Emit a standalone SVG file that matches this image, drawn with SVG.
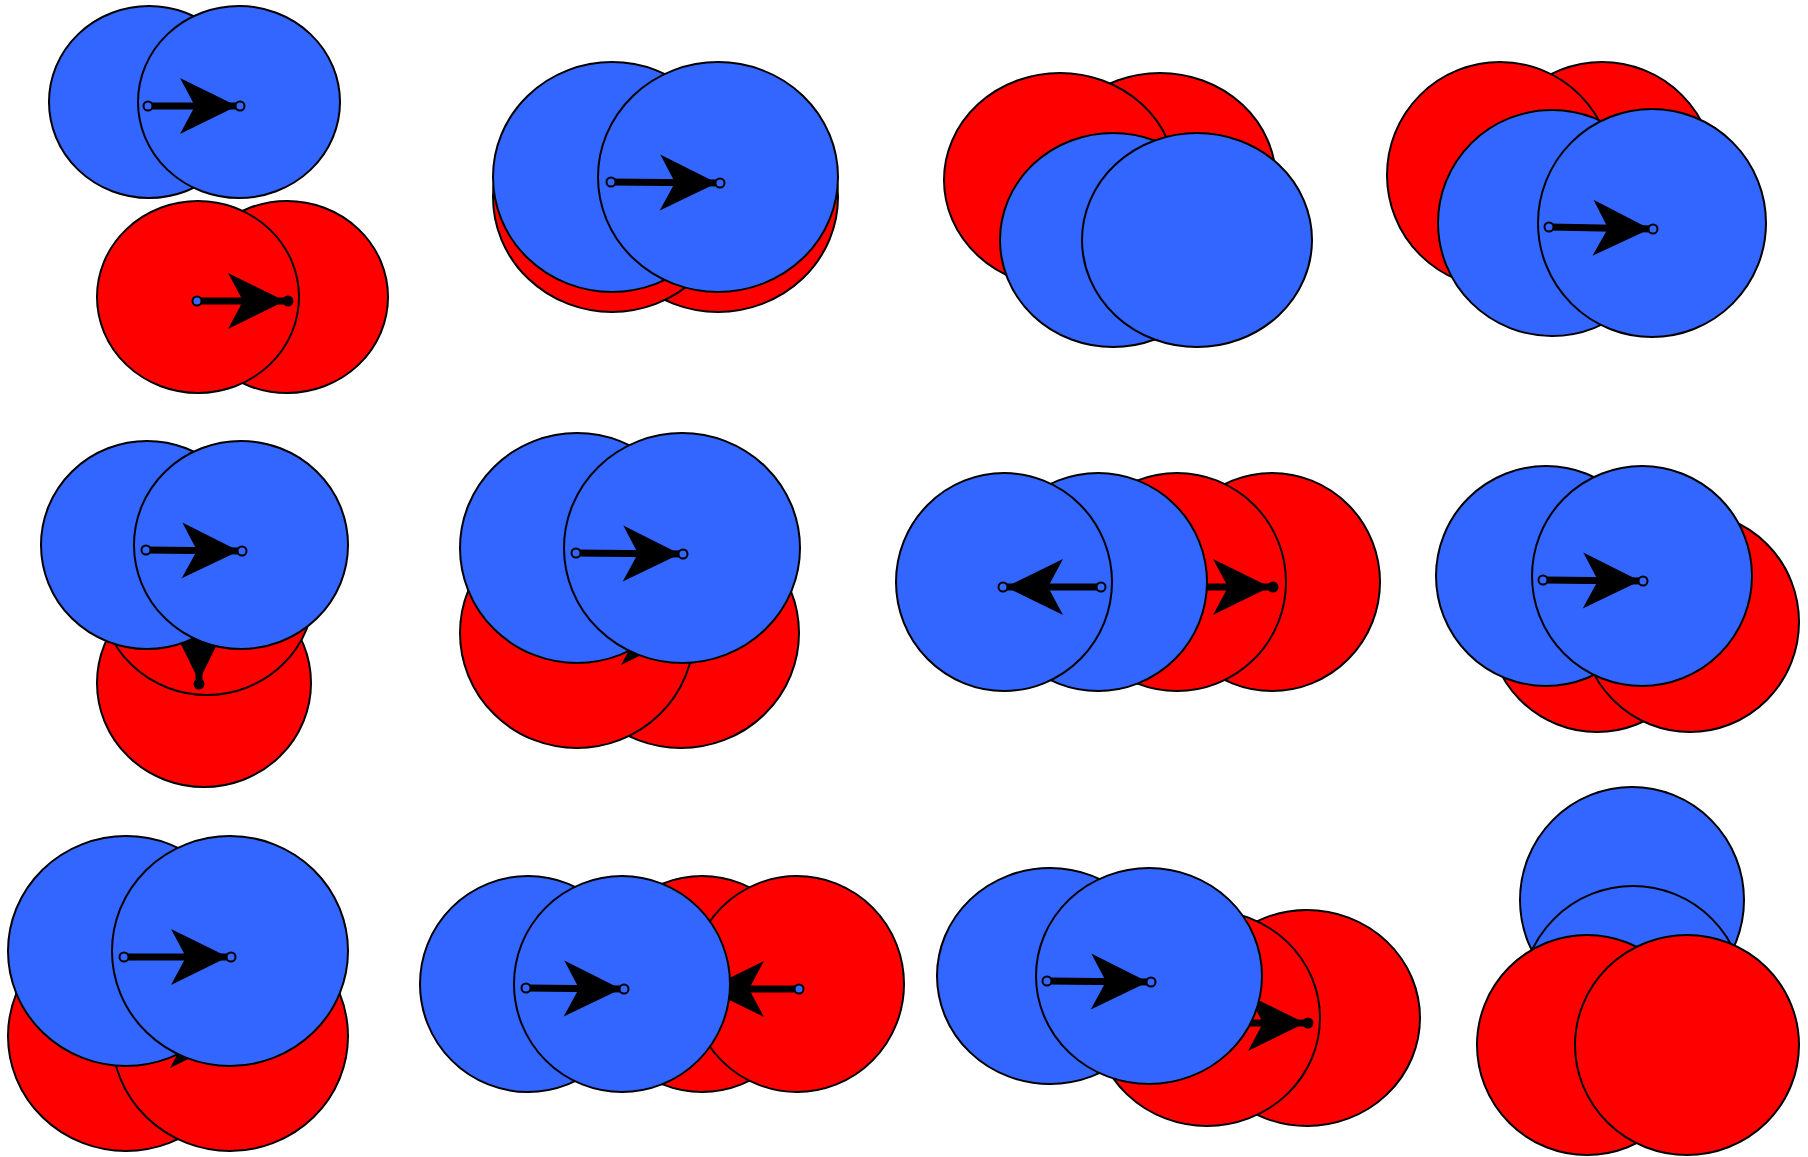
<svg xmlns="http://www.w3.org/2000/svg" width="1808" height="1157" viewBox="0 0 1808 1157">
<style>
.b{fill:#3366FF;stroke:#000;stroke-width:2}
.r{fill:#FF0000;stroke:#000;stroke-width:2}
.sh{stroke:#000;stroke-width:7;fill:none;marker-end:url(#ah)}
.eb{fill:#3366FF;stroke:#000;stroke-width:2}
.ek{fill:#000;stroke:#000;stroke-width:2}
</style>
<defs>
<marker id="ah" markerUnits="userSpaceOnUse" orient="auto" refX="0" refY="0" markerWidth="60" markerHeight="60" overflow="visible">
<path d="M-3,0 L-60,-28 L-45,0 L-60,28 Z" fill="#000"/>
</marker>
</defs>
<rect width="1808" height="1157" fill="#fff"/>

<!-- panel 12 (blue beneath red) -->
<g id="p12-blue-top"><ellipse class="b" cx="1632" cy="900" rx="112" ry="113"/></g>
<g id="p12-blue-mid"><ellipse class="b" cx="1633" cy="999" rx="112" ry="113"/></g>
<g id="p12-red-left"><ellipse class="r" cx="1587" cy="1045" rx="110" ry="110"/></g>
<g id="p12-red-right"><ellipse class="r" cx="1687" cy="1045" rx="112" ry="110"/></g>

<g id="red-nodes">
<g id="p1-red-right"><ellipse class="r" cx="287" cy="297" rx="101" ry="96"/></g>
<g id="p1-red-left"><ellipse class="r" cx="198" cy="297" rx="101" ry="96"/></g>
<g id="p2-red-right"><ellipse class="r" cx="718" cy="197" rx="120" ry="115"/></g>
<g id="p2-red-left"><ellipse class="r" cx="612" cy="197" rx="119" ry="115"/></g>
<g id="p3-red-right"><ellipse class="r" cx="1160" cy="180" rx="116" ry="107"/></g>
<g id="p3-red-left"><ellipse class="r" cx="1060" cy="180" rx="116" ry="107"/></g>
<g id="p4-red-right"><ellipse class="r" cx="1602" cy="175" rx="113" ry="113"/></g>
<g id="p4-red-left"><ellipse class="r" cx="1500" cy="175" rx="113" ry="113"/></g>
<g id="p5-red-bottom"><ellipse class="r" cx="204" cy="683" rx="107" ry="104"/></g>
<g id="p5-red-top"><ellipse class="r" cx="207" cy="591" rx="107" ry="104"/></g>
<g id="p6-red-right"><ellipse class="r" cx="681" cy="633" rx="118" ry="115"/></g>
<g id="p6-red-left"><ellipse class="r" cx="577" cy="633" rx="117" ry="115"/></g>
<g id="p7-red-right"><ellipse class="r" cx="1272" cy="582" rx="108" ry="109"/></g>
<g id="p7-red-left"><ellipse class="r" cx="1177" cy="582" rx="109" ry="109"/></g>
<g id="p8-red-left"><ellipse class="r" cx="1597" cy="622" rx="109" ry="110"/></g>
<g id="p8-red-right"><ellipse class="r" cx="1690" cy="622" rx="109" ry="110"/></g>
<g id="p9-red-left"><ellipse class="r" cx="126" cy="1036" rx="118" ry="115"/></g>
<g id="p9-red-right"><ellipse class="r" cx="230" cy="1036" rx="118" ry="115"/></g>
<g id="p10-red-left"><ellipse class="r" cx="702" cy="984" rx="107" ry="108"/></g>
<g id="p10-red-right"><ellipse class="r" cx="797" cy="984" rx="107" ry="108"/></g>
<g id="p11-red-right"><ellipse class="r" cx="1307" cy="1018" rx="113" ry="108"/></g>
<g id="p11-red-left"><ellipse class="r" cx="1207" cy="1018" rx="113" ry="108"/></g>
</g>

<g id="connectors-red">
<g id="p1-red-arrow"><line class="sh" x1="197" y1="301" x2="288" y2="301"/><circle class="eb" cx="197" cy="301" r="4.5"/><circle class="ek" cx="288" cy="301" r="4.5"/></g>
<g id="p5-red-arrow"><line class="sh" x1="199" y1="590" x2="199" y2="684"/><circle class="ek" cx="199" cy="684" r="4.5"/></g>
<g id="p6-red-arrow"><line class="sh" x1="577" y1="637" x2="681" y2="637"/></g>
<g id="p7-red-arrow"><line class="sh" x1="1177" y1="587" x2="1273" y2="587"/><circle class="ek" cx="1273" cy="587" r="4.5"/></g>
<g id="p9-red-arrow"><line class="sh" x1="126" y1="1040" x2="230" y2="1040"/></g>
<g id="p10-red-arrow"><line class="sh" x1="799" y1="989" x2="704" y2="989"/><circle class="eb" cx="799" cy="989" r="4.5"/></g>
<g id="p11-red-arrow"><line class="sh" x1="1207" y1="1023" x2="1308" y2="1023"/><circle class="ek" cx="1308" cy="1023" r="4.5"/></g>
</g>

<g id="blue-nodes">
<g id="p1-blue-left"><ellipse class="b" cx="149" cy="102" rx="100" ry="96"/></g>
<g id="p1-blue-right"><ellipse class="b" cx="239" cy="102" rx="101" ry="96"/></g>
<g id="p2-blue-left"><ellipse class="b" cx="612" cy="177" rx="119" ry="115"/></g>
<g id="p2-blue-right"><ellipse class="b" cx="718" cy="177" rx="120" ry="115"/></g>
<g id="p3-blue-left"><ellipse class="b" cx="1113" cy="240" rx="113" ry="107"/></g>
<g id="p3-blue-right"><ellipse class="b" cx="1197" cy="240" rx="115" ry="107"/></g>
<g id="p4-blue-left"><ellipse class="b" cx="1552" cy="223" rx="114" ry="113"/></g>
<g id="p4-blue-right"><ellipse class="b" cx="1652" cy="223" rx="114" ry="114"/></g>
<g id="p5-blue-left"><ellipse class="b" cx="147" cy="545" rx="106" ry="104"/></g>
<g id="p5-blue-right"><ellipse class="b" cx="241" cy="545" rx="107" ry="104"/></g>
<g id="p6-blue-left"><ellipse class="b" cx="577" cy="548" rx="117" ry="115"/></g>
<g id="p6-blue-right"><ellipse class="b" cx="682" cy="548" rx="118" ry="115"/></g>
<g id="p7-blue-right"><ellipse class="b" cx="1098" cy="582" rx="109" ry="109"/></g>
<g id="p7-blue-left"><ellipse class="b" cx="1004" cy="582" rx="108" ry="109"/></g>
<g id="p8-blue-left"><ellipse class="b" cx="1546" cy="576" rx="110" ry="110"/></g>
<g id="p8-blue-right"><ellipse class="b" cx="1642" cy="576" rx="110" ry="110"/></g>
<g id="p9-blue-left"><ellipse class="b" cx="126" cy="951" rx="118" ry="115"/></g>
<g id="p9-blue-right"><ellipse class="b" cx="230" cy="951" rx="118" ry="115"/></g>
<g id="p10-blue-left"><ellipse class="b" cx="528" cy="984" rx="108" ry="108"/></g>
<g id="p10-blue-right"><ellipse class="b" cx="622" cy="984" rx="108" ry="108"/></g>
<g id="p11-blue-left"><ellipse class="b" cx="1050" cy="976" rx="113" ry="108"/></g>
<g id="p11-blue-right"><ellipse class="b" cx="1149" cy="976" rx="113" ry="108"/></g>
</g>

<g id="connectors-blue">
<g id="p1-blue-arrow"><line class="sh" x1="148" y1="106" x2="240" y2="106"/><circle class="eb" cx="148" cy="106" r="4.5"/><circle class="eb" cx="240" cy="106" r="4.5"/></g>
<g id="p2-blue-arrow"><line class="sh" x1="611" y1="182" x2="720" y2="183"/><circle class="eb" cx="611" cy="182" r="4.5"/><circle class="eb" cx="720" cy="183" r="4.5"/></g>
<g id="p4-blue-arrow"><line class="sh" x1="1549" y1="227" x2="1653" y2="229"/><circle class="eb" cx="1549" cy="227" r="4.5"/><circle class="eb" cx="1653" cy="229" r="4.5"/></g>
<g id="p5-blue-arrow"><line class="sh" x1="146" y1="550" x2="242" y2="551"/><circle class="eb" cx="146" cy="550" r="4.5"/><circle class="eb" cx="242" cy="551" r="4.5"/></g>
<g id="p6-blue-arrow"><line class="sh" x1="576" y1="553" x2="683" y2="554"/><circle class="eb" cx="576" cy="553" r="4.5"/><circle class="eb" cx="683" cy="554" r="4.5"/></g>
<g id="p7-blue-arrow"><line class="sh" x1="1101" y1="587" x2="1003" y2="587"/><circle class="eb" cx="1101" cy="587" r="4.5"/><circle class="eb" cx="1003" cy="587" r="4.5"/></g>
<g id="p8-blue-arrow"><line class="sh" x1="1543" y1="580" x2="1643" y2="581"/><circle class="eb" cx="1543" cy="580" r="4.5"/><circle class="eb" cx="1643" cy="581" r="4.5"/></g>
<g id="p9-blue-arrow"><line class="sh" x1="124" y1="957" x2="231" y2="957"/><circle class="eb" cx="124" cy="957" r="4.5"/><circle class="eb" cx="231" cy="957" r="4.5"/></g>
<g id="p10-blue-arrow"><line class="sh" x1="526" y1="988" x2="624" y2="989"/><circle class="eb" cx="526" cy="988" r="4.5"/><circle class="eb" cx="624" cy="989" r="4.5"/></g>
<g id="p11-blue-arrow"><line class="sh" x1="1047" y1="981" x2="1151" y2="982"/><circle class="eb" cx="1047" cy="981" r="4.5"/><circle class="eb" cx="1151" cy="982" r="4.5"/></g>
</g>
</svg>
